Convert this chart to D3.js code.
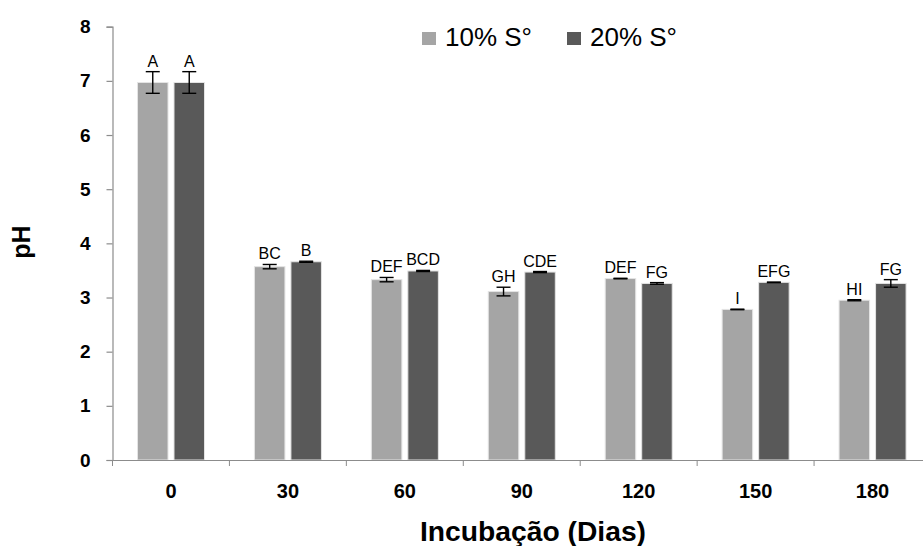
<!DOCTYPE html>
<html>
<head>
<meta charset="utf-8">
<script src="https://cdn.jsdelivr.net/npm/d3@7"></script>
<style>
  body { margin: 0; background: #fff; }
  svg { display: block; font-family: "Liberation Sans", Arial, sans-serif; }
</style>
</head>
<body>
<div id="chart"></div>
<script>
// days of incubation and pH per sulphur dose
const days = ['0', '30', '60', '90', '120', '150', '180'];
const ph10 = [6.97, 3.57, 3.33, 3.11, 3.35, 2.78, 2.95];
const ph20 = [6.97, 3.66, 3.49, 3.47, 3.26, 3.28, 3.26];
const err10 = [0.20, 0.04, 0.04, 0.08, 0.005, 0.005, 0.01];
const err20 = [0.20, 0.01, 0.01, 0.01, 0.015, 0.005, 0.07];
const letters10 = ['A', 'BC', 'DEF', 'GH', 'DEF', 'I', 'HI'];
const letters20 = ['A', 'B', 'BCD', 'CDE', 'FG', 'EFG', 'FG'];
const seriesNames = ['10% S°', '20% S°'];
const yTicks = [0, 1, 2, 3, 4, 5, 6, 7, 8];

const width = 923, height = 546;
const colors = ['#a5a5a5', '#595959'];
const axisColor = '#8c8c8c';

const svg = d3.select('#chart').append('svg')
	.attr('width', width)
	.attr('height', height);

const x0 = d3.scaleBand().domain(days).range([112.5, 931]);
const x1 = d3.scaleBand().domain([0, 1]).range([25, 92]).paddingInner(0.164);
const y = d3.scaleLinear().domain([0, 8]).range([460, 26.7]);

// bars
const rows = days.map((d, i) => ({
	day: d,
	vals: [
		{ s: 0, v: ph10[i], e: err10[i], t: letters10[i] },
		{ s: 1, v: ph20[i], e: err20[i], t: letters20[i] }
	]
}));

const groups = svg.append('g').selectAll('g')
	.data(rows)
	.join('g')
	.attr('transform', d => 'translate(' + x0(d.day) + ',0)');

groups.selectAll('rect')
	.data(d => d.vals)
	.join('rect')
	.attr('x', d => x1(d.s))
	.attr('y', d => y(d.v))
	.attr('width', x1.bandwidth())
	.attr('height', d => y(0) - y(d.v))
	.attr('fill', d => colors[d.s])
	.attr('stroke', '#e4e4e4')
	.attr('stroke-width', 1);

// error bars
const eb = groups.selectAll('g.err')
	.data(d => d.vals)
	.join('g')
	.attr('class', 'err')
	.attr('stroke', '#000')
	.attr('stroke-width', 1.4);
eb.append('line')
	.attr('x1', d => x1(d.s) + x1.bandwidth() / 2)
	.attr('x2', d => x1(d.s) + x1.bandwidth() / 2)
	.attr('y1', d => y(d.v + d.e))
	.attr('y2', d => y(d.v - d.e));
eb.append('line')
	.attr('x1', d => x1(d.s) + x1.bandwidth() / 2 - 7)
	.attr('x2', d => x1(d.s) + x1.bandwidth() / 2 + 7)
	.attr('y1', d => y(d.v + d.e))
	.attr('y2', d => y(d.v + d.e));
eb.append('line')
	.attr('x1', d => x1(d.s) + x1.bandwidth() / 2 - 7)
	.attr('x2', d => x1(d.s) + x1.bandwidth() / 2 + 7)
	.attr('y1', d => y(d.v - d.e))
	.attr('y2', d => y(d.v - d.e));

// letters
groups.selectAll('text')
	.data(d => d.vals)
	.join('text')
	.attr('x', d => x1(d.s) + x1.bandwidth() / 2)
	.attr('y', d => y(d.v + d.e) - 5)
	.attr('text-anchor', 'middle')
	.attr('font-size', 16)
	.attr('fill', '#000')
	.text(d => d.t);

// y axis
const yAxis = svg.append('g')
	.attr('transform', 'translate(112.5,0)')
	.call(d3.axisLeft(y).tickValues(yTicks).tickSize(6).tickPadding(16));
yAxis.selectAll('text')
	.attr('font-size', 19)
	.attr('font-weight', 'bold')
	.attr('font-family', '"Liberation Sans", Arial, sans-serif')
	.attr('fill', '#000');

// x axis
const xAxis = svg.append('g')
	.attr('transform', 'translate(0,460)')
	.call(d3.axisBottom(x0).tickSize(0).tickPadding(24));
xAxis.selectAll('text')
	.attr('font-size', 20)
	.attr('font-weight', 'bold')
	.attr('font-family', '"Liberation Sans", Arial, sans-serif')
	.attr('fill', '#000');
// category boundary ticks
xAxis.selectAll('line.sep')
	.data(days)
	.join('line')
	.attr('class', 'sep')
	.attr('x1', d => x0(d))
	.attr('x2', d => x0(d))
	.attr('y1', 0)
	.attr('y2', 6)
	.attr('stroke', axisColor);

svg.selectAll('.domain, .tick line')
	.attr('stroke', axisColor)
	.attr('stroke-width', 1.2);

// axis titles
svg.append('text')
	.attr('x', 533)
	.attr('y', 541)
	.attr('text-anchor', 'middle')
	.attr('font-size', 27)
	.attr('font-weight', 'bold')
	.attr('textLength', 226)
	.attr('lengthAdjust', 'spacingAndGlyphs')
	.text('Incubação (Dias)');

svg.append('text')
	.attr('transform', 'translate(30,242) rotate(-90)')
	.attr('text-anchor', 'middle')
	.attr('font-size', 25)
	.attr('font-weight', 'bold')
	.text('pH');

// legend
const legendX = [422, 567];
const legend = svg.append('g').selectAll('g')
	.data(seriesNames)
	.join('g')
	.attr('transform', (d, i) => 'translate(' + legendX[i] + ',32)');
legend.append('rect')
	.attr('width', 14)
	.attr('height', 13)
	.attr('fill', (d, i) => colors[i]);
legend.append('text')
	.attr('x', 23)
	.attr('y', 14)
	.attr('font-size', 26)
	.attr('fill', '#000')
	.text(d => d);
</script>
</body>
</html>
